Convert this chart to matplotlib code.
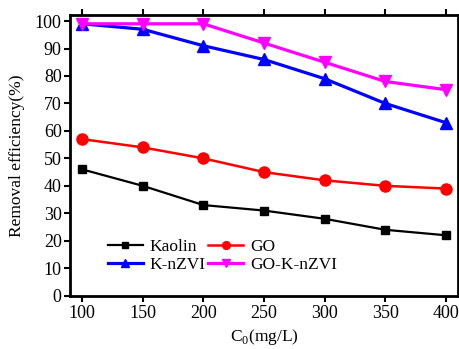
import matplotlib
matplotlib.use("Agg")
import matplotlib.pyplot as plt

c0 = [100, 150, 200, 250, 300, 350, 400]
kaolin = [46, 40, 33, 31, 28, 24, 22]
go = [57, 54, 50, 45, 42, 40, 39]
knzvi = [99, 97, 91, 86, 79, 70, 63]
goknzvi = [99, 99, 99, 92, 85, 78, 75]

plt.rcParams['font.family'] = ['Liberation Serif', 'DejaVu Serif']
plt.rcParams['mathtext.fontset'] = 'custom'
plt.rcParams['mathtext.rm'] = 'Liberation Serif'

fig = plt.figure(figsize=(4.59, 3.49), dpi=100)
ax = fig.add_axes([70/459, 1-295.7/349, 388/459, 280.7/349])

l1, = ax.plot(c0, kaolin, color='black', marker='s', lw=1.6, ms=6, label='Kaolin')
l2, = ax.plot(c0, go, color='red', marker='o', lw=1.8, ms=8, label='GO')
l3, = ax.plot(c0, knzvi, color='blue', marker='^', lw=2.3, ms=8, label='K-nZVI')
l4, = ax.plot(c0, goknzvi, color='magenta', marker='v', lw=2.3, ms=8, label='GO-K-nZVI')

ax.set_xlim(90, 410)
ax.set_ylim(0, 102.2)
ax.set_xticks(c0)
ax.set_yticks(range(0, 101, 10))
ax.tick_params(axis='both', labelsize=13, width=1.5, length=4, direction='out', pad=2)
ax.tick_params(axis='x', top=True, direction='out', pad=3)
for s in ax.spines.values():
    s.set_linewidth(2)

ax.set_xlabel('C$_0$(mg/L)', fontsize=12.5, labelpad=3)
ax.set_ylabel('Removal efficiency(%)', fontsize=12.5, labelpad=7)

ax.legend([l1, l3, l2, l4], ['Kaolin', 'K-nZVI', 'GO', 'GO-K-nZVI'],
          ncol=2, frameon=False, fontsize=12.5, loc='upper left',
          bbox_to_anchor=(0.098, 0.204), borderaxespad=0, borderpad=0,
          handlelength=2.0, columnspacing=0.15, markerscale=0.7,
          handletextpad=0.4, labelspacing=0.15)

fig.savefig('out.png', dpi=100)
